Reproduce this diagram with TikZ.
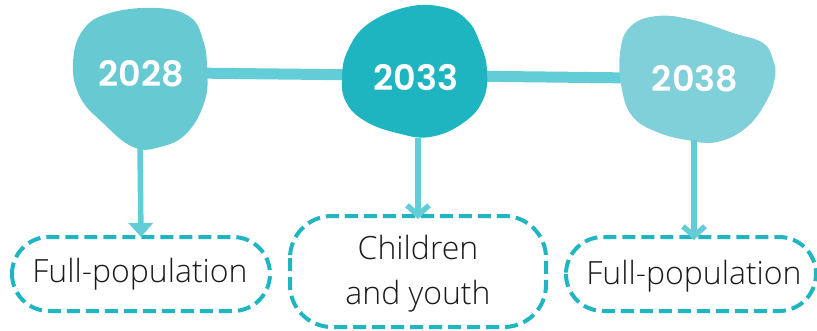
\documentclass[tikz,border=0pt]{standalone}
\usepackage{fontspec}
\setmainfont{Open Sans Light}
\newfontfamily\yearfont{Poppins}[UprightFont=* SemiBold]
\usetikzlibrary{arrows.meta}
\definecolor{blobA}{HTML}{67C9D2}
\definecolor{blobB}{HTML}{1EB5C1}
\definecolor{blobC}{HTML}{80D0D9}
\definecolor{linkc}{HTML}{62CDD6}
\definecolor{dashc}{HTML}{1FB5C1}
\definecolor{txt}{HTML}{1A1A1A}
\tikzset{
  yeartext/.style={text=white,font=\yearfont\fontsize{35}{40}\selectfont},
  boxframe/.style={draw=dashc,line width=4pt,dash pattern=on 13pt off 6pt},
  boxtext/.style={text=txt,font=\fontsize{32}{45}\selectfont,align=center,inner sep=0pt},
  link/.style={draw=linkc,line width=11pt},
  arrowline/.style={draw=linkc,line width=5.5pt},
}
\begin{document}
\begin{tikzpicture}[x=1pt,y=-1pt]
\useasboundingbox (0,0) rectangle (817,330);
% connector behind blobs
\coordinate (l1) at (190,73);
\coordinate (l2) at (635,78);
\draw[link] (l1) -- (l2);
% blobs
\fill[blobA] plot[smooth cycle,tension=0.7] coordinates {(73,63) (83,30) (110,13) (157,8) (190,17) (203,40) (207,67) (205,100) (187,133) (160,147) (133,147) (103,123) (80,97)};
\fill[blobB] plot[smooth cycle,tension=0.7] coordinates {(342,77) (348,50) (368,24) (407,7) (443,7) (467,20) (480,43) (487,70) (483,100) (463,123) (430,137) (397,133) (365,121) (346,102)};
\fill[blobC] plot[smooth cycle,tension=0.7] coordinates {(620,53) (630,27) (657,16) (693,20) (733,33) (763,43) (773,60) (775,77) (767,100) (747,127) (717,142) (687,140) (657,132) (633,117) (622,90)};
% year labels
\node[yeartext] (y1) at (141,74) {2028};
\node[yeartext] (y2) at (416,78) {2033};
\node[yeartext] (y3) at (695,79) {2038};
% boxes
\draw[boxframe,rounded corners=37pt] (12,237) rectangle (270,311);
\node[boxtext] (b1) at (140,274) {Full-population};
\coordinate (b1n) at (141,237);
\draw[boxframe,rounded corners=42pt] (290,216) rectangle (546,327);
\node[boxtext] (b2) at (418,274) {Children\\and youth};
\coordinate (b2n) at (418,216);
\draw[boxframe,rounded corners=37pt] (566,237) rectangle (816,311);
\node[boxtext] (b3) at (694,276) {Full-population};
\coordinate (b3n) at (694,237);
% arrows
\coordinate (a1) at (140,148);
\coordinate (a2) at (418,138);
\coordinate (a3) at (694,140);
\draw[arrowline,-{Triangle[width=24pt,length=14pt]}] (a1) -- (b1n);
\draw[arrowline,-{Straight Barb[width=22pt,length=10pt]}] (a2) -- ([yshift=-3pt]b2n);
\draw[arrowline,-{Straight Barb[width=22pt,length=10pt]}] (a3) -- ([yshift=-3pt]b3n);
\end{tikzpicture}
\end{document}
